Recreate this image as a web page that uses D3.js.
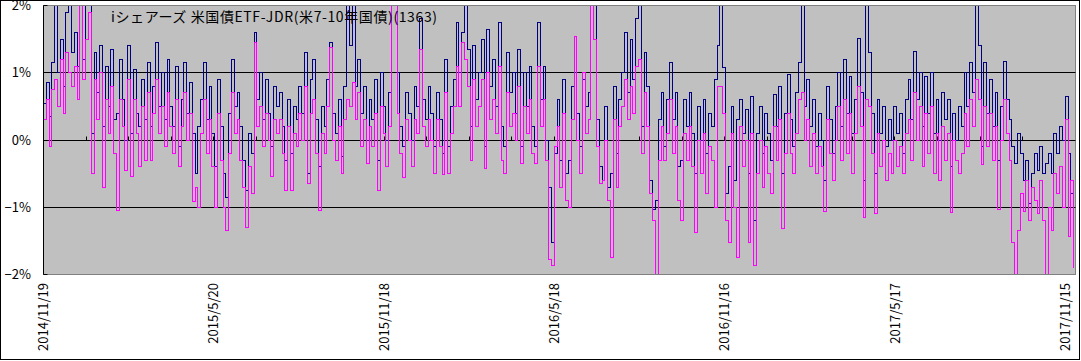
<!DOCTYPE html>
<html>
<head>
  <meta charset="utf-8">
  <script src="https://d3js.org/d3.v7.min.js"></script>
  <style>
    body { margin: 0; background: #fff; }
    text { font-family: "Noto Sans CJK JP", "Noto Sans", sans-serif; fill: #000; }
  </style>
</head>
<body>
<script>
// ---- data (percent), one point every 3 calendar days from 2014/11/19 ----
var startDate = new Date(2014, 10, 19);
var endDate = new Date(2017, 10, 26);
var stepDays = 3;

var titleText = "iシェアーズ 米国債ETF-JDR(米7-10年国債)(1363)";
var yTicks = [2, 1, 0, -1, -2];
var yTickLabels = ["2%", "1%", "0%", "\u22121%", "\u22122%"];
var xTickLabels = ["2014/11/19", "2015/5/20", "2015/11/18", "2016/5/18", "2016/11/16", "2017/5/17", "2017/11/15"];

// navy series
var seriesNavy = [
  0.55, 0.85, 0.35, 1.15, 2.3, 1.0, 1.5, 0.8, 1.9, 2.3, 1.3, 1.6, 1.1, 2.4,
  1.2, 2.5, 2.3, 0.1, 1.3, 0.7, 1.4, 0.2, 1.1, 0.5, 1.35, 0.3, 0.4, 1.2,
  0.6, 0.0, 1.4, 0.1, 1.05, 0.4, 0.2, 0.9, 0.3, 1.15, 0.2, 0.8, 1.45, 0.5,
  1.0, 0.3, 1.2, 0.5, 0.2, 1.1, -0.1, 0.6, 1.15, 0.4, 0.85, 0.1, -0.5, 0.2,
  0.6, 1.15, 0.3, 0.8, 0.1, -0.4, 0.9, 0.2, -0.5, -0.85, 0.4, 1.2, 0.5, 0.7,
  0.2, -0.3, -0.75, 0.1, -0.2, 1.6, 0.6, 1.0, 0.3, 0.9, 0.4, -0.1, 0.8, 0.5,
  0.7, 0.2, -0.3, 0.6, -0.2, 0.5, 0.3, 0.8, 0.4, 1.3, -0.5, 0.9, 1.2, 0.3,
  -0.4, 0.5, 0.2, 0.9, 1.45, 0.4, 0.1, 0.6, -0.25, 0.8, 2.3, 1.4, 2.1, 0.8,
  1.2, 0.4, 0.8, 0.0, 0.6, 0.3, 0.9, -0.3, 1.0, 0.5, 0.0, 0.7, 2.4, 2.5,
  1.0, 0.2, -0.1, 0.7, 0.4, 0.0, 0.8, 0.5, 1.8, 0.6, 0.3, 0.8, 0.4, -0.1,
  0.7, 0.3, -0.2, 1.2, -0.1, 0.5, 0.9, 1.75, 1.0, 1.6, 2.4, 1.35, 0.2, 1.4,
  0.6, 1.0, 1.5, -0.1, 1.65, 0.8, 1.2, 0.5, 1.75, 0.2, -0.1, 1.3, 0.7, 1.0,
  0.4, 1.34, -0.1, 1.0, 0.5, 1.1, 0.2, -0.1, 1.75, 0.6, 1.1, 0.0, -0.7, -1.53,
  -0.2, 0.6, -0.3, 0.9, -0.5, -0.3, 0.8, 1.0, 0.4, -0.1, 0.9, 0.5, 0.7, 2.4,
  2.1, 0.3, -0.4, -0.6, 0.5, -0.7, -0.5, 0.8, -0.2, 0.6, 1.0, 1.6, 0.7, 1.5,
  0.9, 1.8, 2.4, 0.2, 1.3, 0.8, -0.6, -1.04, -0.9, 0.3, 0.7, -0.1, 0.6, 1.15,
  0.3, 0.7, -0.4, -0.3, 0.6, 0.2, 0.7, 0.1, -0.5, 0.5, 0.0, 0.6, -0.2, 0.4,
  0.2, 0.9, 1.4, 2.4, 1.08, -0.8, -0.4, 0.5, -0.6, 0.3, 0.6, 0.1, 0.45, -0.5,
  0.64, -1.19, 0.1, 0.5, -0.2, 0.4, 0.1, -0.3, 0.67, 0.2, 0.8, -0.5, 0.4, 0.97,
  0.3, -0.1, 0.7, 1.15, 2.4, 0.5, 0.9, 0.2, 0.6, -0.1, 0.4, 0.0, -0.6, 0.8,
  0.3, -0.2, 0.5, 1.0, 0.2, 1.19, 0.4, 0.95, 0.1, 0.6, 1.51, 0.7, -0.6, 2.4,
  1.3, 0.4, -0.5, 0.6, 0.1, 0.5, -0.1, 0.3, 0.0, 0.5, 0.1, 0.4, -0.2, 0.6,
  0.9, 0.3, 1.31, 0.6, 1.0, 0.2, 0.95, 0.4, 1.0, 0.1, 0.6, 0.0, 0.7, 0.3,
  0.6, -0.4, 0.4, 0.0, 0.5, 0.2, 1.0, 0.5, 1.15, 0.7, 2.4, 1.4, -0.1, 1.15,
  0.4, 0.9, 0.2, 0.7, -0.3, 0.5, 1.17, 0.6, 0.3, -0.1, -0.35, 0.1, -0.2, -0.6,
  -0.3, -0.94, -0.5, -0.2, -0.45, -0.1, -0.5, -0.35, -0.2, -0.5, 0.1, -0.2, 0.2, 0.0,
  0.64, -0.2, -0.8, -1.1
];

// magenta series
var seriesMagenta = [
  0.3, 0.6, -0.1, 0.75, 0.9, 0.5, 1.2, 0.4, 1.3, 1.0, 0.8, 1.1, 0.6, 2.1,
  0.9, 1.5, 1.9, -0.5, 0.9, 0.3, 1.0, -0.7, 0.6, 0.1, 0.8, -0.2, -1.05, 0.6,
  0.2, -0.45, 0.9, -0.55, 0.6, 0.1, -0.4, 0.5, -0.3, 0.7, -0.3, 0.4, 0.9, 0.1,
  0.5, -0.1, 0.7, 0.2, -0.2, 0.6, -0.4, 0.2, 0.7, 0.0, 0.4, -0.92, -0.7, -1.0,
  0.1, 0.6, -0.2, 0.3, -0.4, -1.0, 0.4, -0.3, -1.0, -1.35, -0.2, 0.7, 0.1, 0.3,
  -0.3, -0.7, -1.3, -0.4, -0.8, 1.45, 0.2, 0.5, -0.1, 0.4, 0.0, -0.55, 0.3, 0.1,
  0.3, -0.2, -0.75, 0.2, -0.75, 0.1, -0.1, 0.4, 0.0, 0.8, -0.65, 0.4, 0.6, -0.2,
  -1.05, 0.1, -0.2, 0.5, 1.38, 0.0, -0.3, 0.2, -0.5, 0.3, 0.6, 0.5, 0.85, 0.3,
  0.7, -0.1, 0.3, -0.35, 0.2, -0.1, 0.4, -0.75, 0.5, 0.1, -0.4, 0.2, 2.3, 2.2,
  0.4, -0.2, -0.56, 0.3, 0.0, -0.4, 0.3, 0.1, 1.35, 0.2, -0.1, 0.3, 0.0, -0.5,
  0.3, -0.1, -0.52, 0.7, -0.5, 0.1, 0.5, 1.1, 0.5, 1.45, 1.2, 0.8, -0.3, 0.9,
  0.2, 0.5, 0.9, -0.43, 1.0, 0.3, 0.6, 0.1, 1.1, -0.3, -0.5, 0.7, 0.2, 0.4,
  0.0, 0.8, -0.35, 0.5, 0.1, 0.6, -0.2, -0.35, 1.1, 0.2, 0.6, -0.3, -1.78, -1.86,
  -0.1, 0.2, -0.7, 0.4, -0.9, -1.0, 0.3, 1.54, 0.0, -0.5, 1.0, 0.1, 0.3, 2.2,
  1.5, -0.1, -0.64, -0.6, 0.0, -0.9, -1.75, 0.3, -0.7, 0.2, 0.5, 0.9, 0.3, 0.8,
  0.4, 1.1, 1.2, -0.2, 0.7, 0.2, -0.8, -1.2, -2.2, -0.3, 0.2, -0.3, 0.1, 0.6,
  -0.2, 0.2, -0.9, -1.19, 0.1, -0.3, 0.2, -0.4, -1.37, 0.0, -0.5, 0.1, -0.8, -0.1,
  -0.3, -1.0, 0.8, 0.8, 0.4, -1.19, -1.53, 0.1, -1.0, -1.75, 0.2, -0.4, 0.0, -1.53,
  0.1, -1.86, -0.5, 0.0, -0.7, -0.1, -0.5, -0.8, 0.2, -0.3, 0.3, -1.31, -0.2, 0.4,
  -0.2, -0.5, 0.1, 0.6, 0.7, 0.0, 0.3, -0.4, 0.1, -0.5, -0.1, -0.4, -1.07, 0.3,
  -0.2, -0.6, 0.0, 0.5, -0.3, 0.6, -0.2, 0.4, -0.5, 0.1, 0.8, 0.2, -1.15, 0.6,
  0.5, -0.2, -1.09, 0.1, -0.4, 0.0, -0.6, -0.2, -0.5, 0.0, -0.4, -0.1, -0.5, 0.1,
  0.3, -0.3, 0.7, 0.0, 0.5, -0.4, 0.4, -0.2, 0.5, -0.5, 0.1, -0.6, 0.2, -0.3,
  0.1, -1.08, 0.0, -0.3, -0.5, -0.2, 0.4, -0.1, 0.6, 0.2, 0.9, 0.6, -0.37, 0.5,
  -0.1, 0.4, -0.3, 0.2, -1.03, 0.0, 0.6, 0.1, -0.3, -1.53, -2.2, -1.34, -0.8, -1.07,
  -0.6, -1.19, -0.7, -0.9, -1.1, -0.6, -1.2, -2.2, -1.0, -1.34, -0.5, -0.8, -0.4, -1.0,
  0.3, -1.44, -0.6, -1.89
];

// ---- layout ----
var W = 1081, H = 361;
var plot = { left: 43.5, right: 1075.5, top: 5.5, bottom: 274.5 };

var parseLabel = d3.timeParse("%Y/%m/%d");
function pointDate(i) { return d3.timeDay.offset(startDate, i * stepDays); }

var x = d3.scaleTime().domain([startDate, endDate]).range([plot.left, plot.right]);
var y = d3.scaleLinear().domain([-2, 2]).range([plot.bottom, plot.top]);

// snap to pixel centres so the 1px strokes stay crisp
function px(v) { return Math.round(v - 0.5) + 0.5; }

var svg = d3.select("body").append("svg")
  .attr("width", W)
  .attr("height", H);

// outer frame
svg.append("rect")
  .attr("x", 0.5).attr("y", 0.5)
  .attr("width", W - 2).attr("height", H - 2)
  .attr("fill", "#fff").attr("stroke", "#000");

// plot background
svg.append("rect")
  .attr("x", plot.left).attr("y", plot.top)
  .attr("width", plot.right - plot.left).attr("height", plot.bottom - plot.top)
  .attr("fill", "#c0c0c0").attr("stroke", "#808080");

// gridlines at 1, 0, -1
svg.append("g").selectAll("line")
  .data(yTicks.filter(function (d) { return d > -2 && d < 2; }))
  .enter().append("line")
  .attr("x1", plot.left).attr("x2", plot.right)
  .attr("y1", function (d) { return px(y(d)); })
  .attr("y2", function (d) { return px(y(d)); })
  .attr("stroke", "#000");

// category axis tick marks sitting on the 0 line
var zeroY = px(y(0));
var tickDays = 45.5;
var nTicks = Math.floor((endDate - startDate) / 864e5 / tickDays);
svg.append("g").selectAll("line")
  .data(d3.range(1, nTicks + 1))
  .enter().append("line")
  .attr("x1", function (k) { return px(x(new Date(+startDate + k * tickDays * 864e5))); })
  .attr("x2", function (k) { return px(x(new Date(+startDate + k * tickDays * 864e5))); })
  .attr("y1", zeroY).attr("y2", zeroY - 4)
  .attr("stroke", "#000");

// clip for the series
svg.append("clipPath").attr("id", "clip")
  .append("rect")
  .attr("x", plot.left + 0.5).attr("y", plot.top + 0.5)
  .attr("width", plot.right - plot.left - 1).attr("height", plot.bottom - plot.top - 1);

var line = d3.line()
  .x(function (d, i) { return px(x(pointDate(i))); })
  .y(function (d) { return px(y(d)); })
  .curve(d3.curveStepAfter);

var series = svg.append("g").attr("clip-path", "url(#clip)");
series.append("path")
  .datum(seriesNavy)
  .attr("d", line)
  .attr("fill", "none")
  .attr("stroke", "#000080")
  .attr("stroke-width", 1)
  .attr("shape-rendering", "crispEdges");
series.append("path")
  .datum(seriesMagenta)
  .attr("d", line)
  .attr("fill", "none")
  .attr("stroke", "#ff00ff")
  .attr("stroke-width", 1)
  .attr("shape-rendering", "crispEdges");

// value axis
svg.append("line")
  .attr("x1", plot.left).attr("x2", plot.left)
  .attr("y1", plot.top).attr("y2", plot.bottom)
  .attr("stroke", "#000");
svg.append("g").selectAll("line")
  .data(yTicks)
  .enter().append("line")
  .attr("x1", plot.left).attr("x2", plot.left + 4)
  .attr("y1", function (d) { return px(y(d)); })
  .attr("y2", function (d) { return px(y(d)); })
  .attr("stroke", "#000");
svg.append("g").selectAll("text")
  .data(yTicks)
  .enter().append("text")
  .attr("x", 31)
  .attr("y", function (d) { return y(d); })
  .attr("dy", "0.36em")
  .attr("text-anchor", "end")
  .style("font-size", "13px")
  .text(function (d, i) { return yTickLabels[i]; });

// date labels, rotated
svg.append("g").selectAll("text")
  .data(xTickLabels)
  .enter().append("text")
  .attr("transform", function (d) { return "translate(" + x(parseLabel(d)) + ",283) rotate(-90)"; })
  .attr("text-anchor", "end")
  .attr("dy", "0.36em")
  .style("font-size", "13px")
  .text(function (d) { return d; });

// title
svg.append("text")
  .attr("x", 111)
  .attr("y", 22)
  .attr("textLength", 326)
  .attr("lengthAdjust", "spacing")
  .style("font-size", "14px")
  .text(titleText);
</script>
</body>
</html>
